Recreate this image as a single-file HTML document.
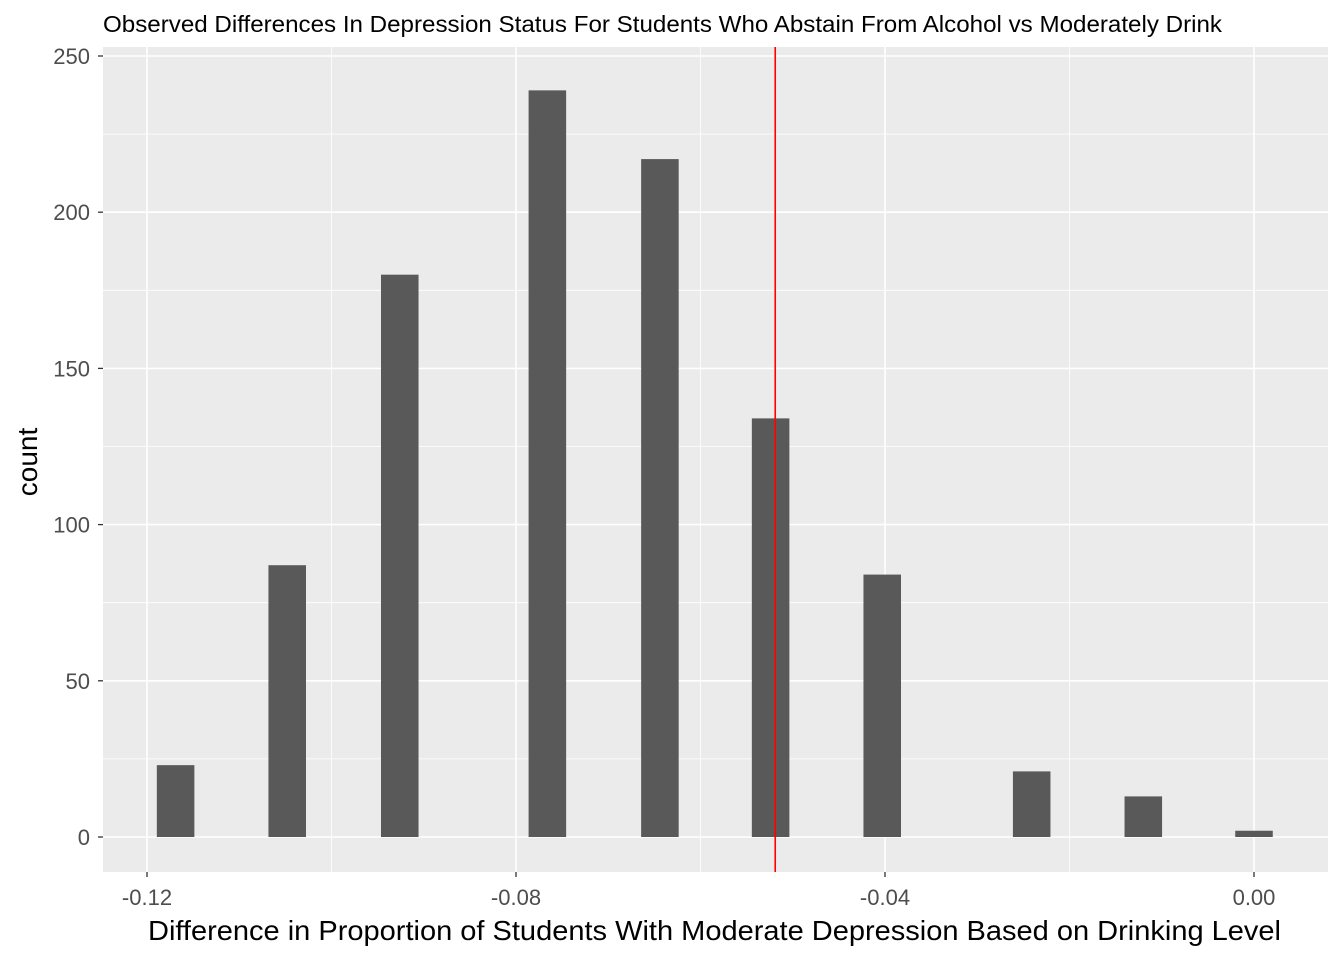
<!DOCTYPE html>
<html><head><meta charset="utf-8"><style>
body{margin:0;background:#fff;}
svg{display:block;font-family:"Liberation Sans",Arial,sans-serif;}
</style></head><body>
<svg id="chart" width="1344" height="960" xmlns="http://www.w3.org/2000/svg">
<rect x="0" y="0" width="1344" height="960" fill="#fff"/>
<text x="103" y="32" font-size="23" textLength="1119" lengthAdjust="spacingAndGlyphs" fill="#000">Observed Differences In Depression Status For Students Who Abstain From Alcohol vs Moderately Drink</text>
<rect x="103" y="47" width="1225" height="825" fill="#ebebeb"/>
<g id="grid"></g>
<g id="bars"></g>
<g id="axes"></g>
<text x="148" y="940" font-size="28" textLength="1133" lengthAdjust="spacingAndGlyphs" fill="#000">Difference in Proportion of Students With Moderate Depression Based on Drinking Level</text>
<text transform="translate(37,462) rotate(-90)" font-size="28" text-anchor="middle" fill="#000">count</text>
</svg>
<script>
const binCenters = [-0.1169, -0.1048, -0.0926, -0.0766, -0.0644, -0.0524, -0.0403, -0.0241, -0.0120, 0.0000];
const counts = [23, 87, 180, 239, 217, 134, 84, 21, 13, 2];
const binWidth = 0.00407;
const observedDiff = -0.0519;
const xTicks = [-0.12, -0.08, -0.04, 0.00];
const xTickLabels = ["-0.12", "-0.08", "-0.04", "0.00"];
const xMinor = [-0.10, -0.06, -0.02];
const yTicks = [0, 50, 100, 150, 200, 250];
const yMinor = [25, 75, 125, 175, 225];

const NS = "http://www.w3.org/2000/svg";
const xs = v => 147 + (v + 0.12) * 9225;
const ys = v => 837 - v * 3.124;
const P = {l:103, r:1328, t:47, b:872};
function mk(tag, attrs, parent){const e=document.createElementNS(NS,tag);for(const k in attrs)e.setAttribute(k,attrs[k]);parent.appendChild(e);return e;}
const grid=document.getElementById('grid'), bars=document.getElementById('bars'), axes=document.getElementById('axes');
yMinor.forEach(v=>{const l=mk('line',{x1:P.l,x2:P.r,y1:ys(v),y2:ys(v),stroke:'#fff','stroke-width':0.8},grid);

});
xMinor.forEach(v=>{const l=mk('line',{x1:xs(v),x2:xs(v),y1:P.t,y2:P.b,stroke:'#fff','stroke-width':0.8},grid);

});
yTicks.forEach(v=>{const l=mk('line',{x1:P.l,x2:P.r,y1:ys(v),y2:ys(v),stroke:'#fff','stroke-width':1.6},grid);


const t=mk('line',{x1:P.l-5,x2:P.l,y1:ys(v),y2:ys(v),stroke:'#333','stroke-width':1.3},axes);


const tx=mk('text',{x:P.l-13,y:ys(v)+8,'font-size':22,'text-anchor':'end',fill:'#4d4d4d'},axes);tx.textContent=v;

});
xTicks.forEach((v,i)=>{const l=mk('line',{x1:xs(v),x2:xs(v),y1:P.t,y2:P.b,stroke:'#fff','stroke-width':1.6},grid);


const t=mk('line',{x1:xs(v),x2:xs(v),y1:P.b,y2:P.b+5,stroke:'#333','stroke-width':1.3},axes);


const tx=mk('text',{x:xs(v),y:P.b+33,'font-size':22,'text-anchor':'middle',fill:'#4d4d4d'},axes);tx.textContent=xTickLabels[i];

});
binCenters.forEach((c,i)=>{const x0=xs(c-binWidth/2),x1=xs(c+binWidth/2);
const r=mk('rect',{x:x0,y:ys(counts[i]),width:x1-x0,height:ys(0)-ys(counts[i]),fill:'#595959'},bars);

});
const red=mk('line',{x1:xs(observedDiff),x2:xs(observedDiff),y1:P.t,y2:P.b,stroke:'#ff0000','stroke-width':1.6},bars);


</script>
</body></html>
